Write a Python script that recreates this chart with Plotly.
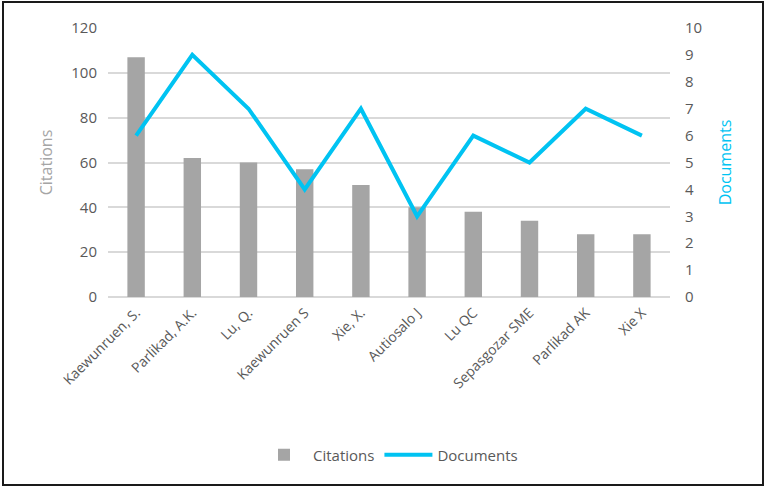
import plotly.graph_objects as go

authors = ["Kaewunruen, S.", "Parlikad, A.K.", "Lu, Q.", "Kaewunruen S", "Xie, X.",
           "Autiosalo J", "Lu QC", "Sepasgozar SME", "Parlikad AK", "Xie X"]
citations = [107, 62, 60, 57, 50, 40, 38, 34, 28, 28]
documents = [6, 9, 7, 4, 7, 3, 6, 5, 7, 6]

left_ticks = [0, 20, 40, 60, 80, 100, 120]
right_ticks = list(range(0, 11))

GRAY = "#A5A5A5"
CYAN = "#00C3F2"
TEXT = "#595959"
FONT = "Open Sans"

fig = go.Figure()
fig.add_trace(go.Bar(x=authors, y=citations, name="Citations",
                     marker=dict(color=GRAY, line=dict(width=0)), yaxis="y"))
fig.add_trace(go.Scatter(x=authors, y=documents, name="Documents", mode="lines",
                         line=dict(color=CYAN, width=4), yaxis="y2"))

L, R, T, B = 108, 98, 28, 191
W, H = 768, 488
pw, ph = W - L - R, H - T - B

fig.update_layout(
    width=W, height=H,
    margin=dict(l=L, r=R, t=T, b=B, pad=0),
    paper_bgcolor="white", plot_bgcolor="white",
    font=dict(family=FONT, size=13, color=TEXT),
    bargap=0.69,
    showlegend=True,
    legend=dict(orientation="h", x=0.5, xanchor="center", y=(T + ph - 455) / ph,
                yanchor="middle", font=dict(size=15, color=TEXT), itemwidth=48),
    xaxis=dict(tickangle=-45, showgrid=False, showline=False, ticks="",
               ticklabelstandoff=4,
               tickfont=dict(size=14, color=TEXT)),
    yaxis=dict(range=[0, 120], tickvals=left_ticks, showgrid=True, gridcolor="#D9D9D9",
               gridwidth=1.5, zeroline=True, zerolinecolor="#D9D9D9", zerolinewidth=1.5,
               showline=False, ticks="", ticklabelstandoff=10,
               tickfont=dict(size=15, color=TEXT),
               title=dict(text="Citations", font=dict(size=16, color=GRAY), standoff=14)),
    yaxis2=dict(range=[0, 10], tickvals=right_ticks, overlaying="y", side="right",
                showgrid=False, zeroline=False, showline=False, ticks="",
                ticklabelstandoff=14,
                tickfont=dict(size=15, color=TEXT),
                title=dict(text="Documents", font=dict(size=16, color=CYAN), standoff=18)),
)

# Outer frame around the chart
fig.add_shape(type="rect", xref="paper", yref="paper",
              x0=(3 - L) / pw, x1=(763 - L) / pw,
              y0=(T + ph - 485) / ph, y1=(T + ph - 2) / ph,
              line=dict(color="#1a1a1a", width=2), fillcolor="rgba(0,0,0,0)", layer="above")

fig.write_html("out.html")
